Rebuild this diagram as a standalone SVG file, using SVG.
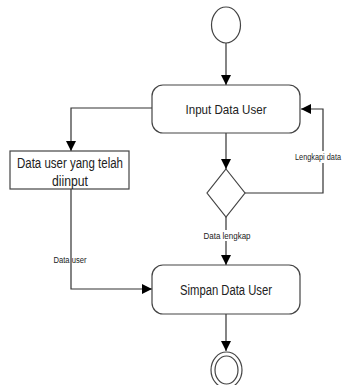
<svg xmlns="http://www.w3.org/2000/svg" width="347" height="385" viewBox="0 0 347 385">
<defs>
<marker id="arr" viewBox="0 0 10 10" refX="10" refY="5" markerWidth="10" markerHeight="10" markerUnits="userSpaceOnUse" orient="auto">
<path d="M0,0 L10,5 L0,10 z" fill="#000"/>
</marker>
</defs>
<style>
.ln{fill:none;stroke:#333;stroke-width:1.2;marker-end:url(#arr)}
.sh{fill:#fff;stroke:#444;stroke-width:1.2}
.t{font-family:"Liberation Sans",Arial,sans-serif;fill:#222;text-anchor:middle}
.lb{font-family:"Liberation Sans",Arial,sans-serif;fill:#222;font-size:8.5px;text-anchor:middle}
</style>
<rect width="347" height="385" fill="#fff"/>
<g id="connectors">
<path class="ln" d="M226,43 V85"/>
<path class="ln" d="M152,108 H71 V151"/>
<path class="ln" d="M71,189 V289 H152"/>
<path class="ln" d="M226,133 V169"/>
<path class="ln" d="M245,193 H323 V109 H301"/>
<path class="ln" d="M226,217 V265"/>
<path class="ln" d="M226,314 V351"/>
<rect x="294" y="151" width="50" height="12" fill="#fff"/>
<text class="lb" x="318" y="160" textLength="46" lengthAdjust="spacingAndGlyphs">Lengkapi data</text>
<rect x="203" y="230" width="48" height="11" fill="#fff"/>
<text class="lb" x="227" y="239" textLength="47" lengthAdjust="spacingAndGlyphs">Data lengkap</text>
<text class="lb" x="70" y="263" textLength="33" lengthAdjust="spacingAndGlyphs">Data user</text>
</g>
<g id="start">
<ellipse class="sh" cx="226" cy="25" rx="14.5" ry="18"/>
</g>
<g id="input">
<rect class="sh" x="152" y="85" width="148" height="48" rx="11"/>
<text class="t" x="226" y="114" font-size="13" textLength="81" lengthAdjust="spacingAndGlyphs">Input Data User</text>
</g>
<g id="datauser">
<rect class="sh" x="10" y="151" width="119" height="38"/>
<text class="t" x="70" y="168" font-size="14" textLength="106" lengthAdjust="spacingAndGlyphs">Data user yang telah</text>
<text class="t" x="70" y="186" font-size="14" textLength="36" lengthAdjust="spacingAndGlyphs">diinput</text>
</g>
<g id="decision">
<polygon class="sh" points="226,169 245,193 226,217 207,193"/>
</g>
<g id="simpan">
<rect class="sh" x="152" y="265" width="148" height="49" rx="11"/>
<text class="t" x="226" y="295" font-size="14" textLength="92" lengthAdjust="spacingAndGlyphs">Simpan Data User</text>
</g>
<g id="end">
<ellipse class="sh" cx="226.5" cy="370" rx="15.5" ry="18"/>
<ellipse class="sh" cx="226.5" cy="370" rx="11.5" ry="14"/>
</g>
</svg>
